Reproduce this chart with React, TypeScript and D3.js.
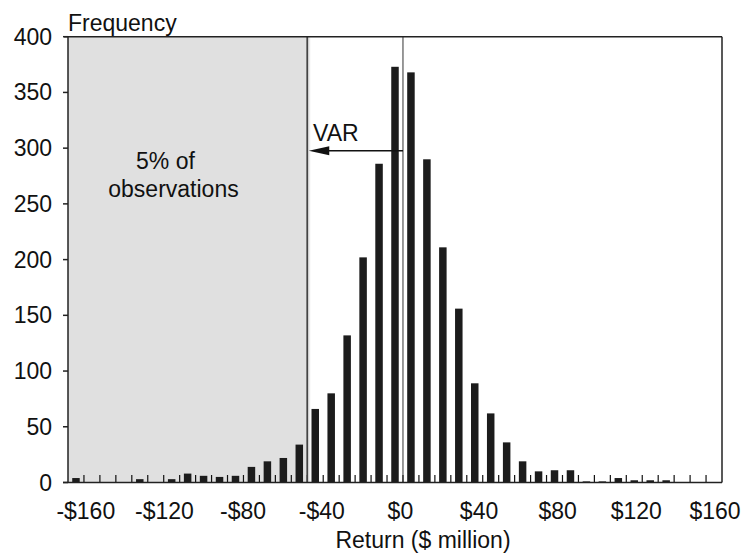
import React from "react";
import * as d3 from "d3";

// Histogram of returns: frequency per bin (41 bins, left to right)
const frequencies = [
  4, 0, 0, 0, 3, 0, 3, 8, 6, 5, 6, 14, 19, 22, 34, 66, 80, 132, 202, 286, 373,
  368, 290, 211, 156, 89, 62, 36, 19, 10, 11, 11, 1, 1, 4, 2, 2, 2, 0, 0, 0,
];
const yTicks = [0, 50, 100, 150, 200, 250, 300, 350, 400];
const xTickValues = [-160, -120, -80, -40, 0, 40, 80, 120, 160];
const xTickLabels = ["-$160", "-$120", "-$80", "-$40", "$0", "$40", "$80", "$120", "$160"];
// bin edges where the VAR cut-off and the zero-return line sit
const varBinEdge = 15;
const zeroBinEdge = 21;

const W = 752;
const H = 556;
const FONT = "'Liberation Sans', Arial, Helvetica, sans-serif";

export default function App() {
  const left = 68;
  const right = 722;
  const top = 36.7;
  const bottom = 482.5;

  const y = d3.scaleLinear().domain([0, 400]).range([bottom, top]);
  const xBand = d3
    .scaleBand<number>()
    .domain(d3.range(frequencies.length))
    .range([left, right])
    .paddingInner(0.53)
    .paddingOuter(0.265);
  const step = xBand.step();
  const edge = (k: number) => left + k * step;
  const xLabel = d3.scaleLinear().domain([-160, 160]).range([85.8, 715]);

  const varX = edge(varBinEdge);
  const zeroX = edge(zeroBinEdge);
  const arrowY = 150.7;
  const fs = 23;

  return (
    <svg
      width={W}
      height={H}
      style={{ position: "absolute", left: 0, top: 0, display: "block", background: "#fff" }}
      fontFamily={FONT}
    >
      <rect x={0} y={0} width={W} height={H} fill="#fff" />
      {/* shaded 5% tail */}
      <rect x={left} y={top} width={varX - left} height={bottom - top} fill="#e0e0e0" />
      <rect x={varX} y={top} width={3} height={bottom - top} fill="#ececec" />

      {/* bars */}
      {frequencies.map((f, i) =>
        f > 0 ? (
          <rect
            key={i}
            x={xBand(i)!}
            y={y(f)}
            width={xBand.bandwidth()}
            height={bottom - y(f)}
            fill="#1c1c1c"
          />
        ) : null
      )}

      {/* x minor ticks at bin edges */}
      {d3.range(1, frequencies.length).map((k) => (
        <line key={k} x1={edge(k)} x2={edge(k)} y1={bottom} y2={bottom - 7.5} stroke="#111" strokeWidth={1.2} />
      ))}

      {/* VAR line & zero line */}
      <line x1={varX} x2={varX} y1={top} y2={bottom} stroke="#444" strokeWidth={1.8} />
      <line x1={zeroX} x2={zeroX} y1={top} y2={bottom} stroke="#333" strokeWidth={1} />

      {/* frame */}
      <line x1={left - 4} x2={right} y1={top} y2={top} stroke="#222" strokeWidth={1.5} />
      <line x1={right} x2={right} y1={top} y2={bottom} stroke="#222" strokeWidth={1.5} />
      <line x1={left} x2={left} y1={top} y2={bottom} stroke="#222" strokeWidth={1.5} />
      <line x1={left - 5} x2={right} y1={bottom} y2={bottom} stroke="#222" strokeWidth={1.5} />

      {/* y ticks and labels */}
      {yTicks.map((t) => (
        <g key={t}>
          <line x1={left - 5} x2={left} y1={y(t)} y2={y(t)} stroke="#222" strokeWidth={1.5} />
          <text x={52} y={y(t)} dy="0.35em" textAnchor="end" fontSize={fs} fill="#111">
            {t}
          </text>
        </g>
      ))}
      <text x={left} y={31} fontSize={fs} fill="#111">
        Frequency
      </text>

      {/* x labels */}
      {xTickValues.map((v, i) => (
        <text key={v} x={xLabel(v)} y={519} textAnchor="middle" fontSize={fs} fill="#111">
          {xTickLabels[i]}
        </text>
      ))}
      <text x={423} y={548} textAnchor="middle" fontSize={fs} fill="#111">
        Return ($ million)
      </text>

      {/* annotations */}
      <text x={165.5} y={168.5} textAnchor="middle" fontSize={fs} fill="#111">
        5% of
      </text>
      <text x={173.5} y={197} textAnchor="middle" fontSize={fs} fill="#111">
        observations
      </text>
      <text x={313} y={141} fontSize={fs} fill="#111">
        VAR
      </text>
      <line x1={zeroX} x2={varX + 18} y1={arrowY} y2={arrowY} stroke="#111" strokeWidth={1.5} />
      <polygon
        points={`${varX + 1.5},${arrowY} ${varX + 22},${arrowY - 4.5} ${varX + 22},${arrowY + 4.5}`}
        fill="#111"
      />
    </svg>
  );
}
